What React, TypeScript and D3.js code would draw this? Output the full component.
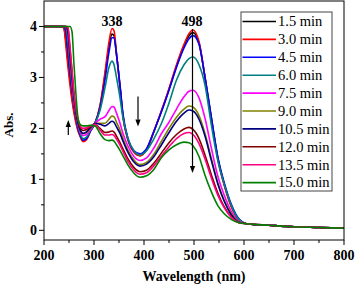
import React from 'react';
import * as d3 from 'd3';

const wavelengths = [200, 236, 240, 244, 248, 252, 256, 260, 264, 268, 272, 278, 285, 293, 302, 312, 322, 330, 336, 340, 345, 352, 358, 368, 380, 392, 405, 420, 435, 450, 465, 480, 490, 498, 510, 522, 535, 548, 560, 575, 590, 605, 650, 700, 750, 800];

const abs1_5 = [4.0, 4.0, 3.97, 3.7, 3.3, 2.95, 2.6, 2.35, 2.15, 1.98, 1.86, 1.75, 1.79, 1.95, 2.1, 2.43, 3.05, 3.6, 3.85, 3.82, 3.45, 2.82, 2.24, 1.78, 1.54, 1.47, 1.58, 1.94, 2.34, 2.77, 3.22, 3.62, 3.82, 3.88, 3.68, 3.0, 2.18, 1.4, 0.92, 0.47, 0.21, 0.13, 0.1, 0.07, 0.055, 0.04];
const abs3_0 = [4.0, 4.0, 3.95, 3.6, 3.2, 2.85, 2.55, 2.3, 2.1, 1.95, 1.85, 1.74, 1.78, 1.95, 2.1, 2.45, 3.1, 3.7, 3.96, 3.92, 3.47, 2.82, 2.23, 1.77, 1.53, 1.46, 1.58, 1.95, 2.35, 2.78, 3.25, 3.65, 3.86, 3.93, 3.7, 3.0, 2.17, 1.38, 0.9, 0.45, 0.2, 0.13, 0.1, 0.07, 0.055, 0.04];
const abs4_5 = [4.0, 4.0, 4.0, 3.9, 3.5, 3.1, 2.75, 2.45, 2.2, 2.0, 1.88, 1.77, 1.8, 1.95, 2.1, 2.4, 2.95, 3.5, 3.78, 3.78, 3.45, 2.85, 2.28, 1.8, 1.56, 1.5, 1.6, 1.95, 2.33, 2.75, 3.2, 3.58, 3.76, 3.82, 3.65, 3.0, 2.2, 1.42, 0.95, 0.5, 0.22, 0.13, 0.1, 0.07, 0.055, 0.04];
const abs6_0 = [4.0, 4.0, 4.0, 3.98, 3.7, 3.25, 2.85, 2.5, 2.25, 2.05, 1.92, 1.8, 1.83, 1.97, 2.1, 2.35, 2.8, 3.2, 3.32, 3.25, 3.0, 2.6, 2.2, 1.8, 1.56, 1.48, 1.56, 1.8, 2.1, 2.5, 2.95, 3.25, 3.37, 3.4, 3.25, 2.85, 2.05, 1.35, 0.92, 0.48, 0.21, 0.13, 0.1, 0.07, 0.055, 0.04];
const abs7_5 = [4.0, 4.0, 4.0, 4.0, 3.85, 3.4, 2.95, 2.55, 2.28, 2.08, 1.95, 1.86, 1.88, 1.98, 2.1, 2.18, 2.23, 2.35, 2.43, 2.42, 2.3, 2.1, 1.9, 1.65, 1.45, 1.37, 1.42, 1.62, 1.9, 2.12, 2.38, 2.62, 2.73, 2.75, 2.6, 2.2, 1.6, 1.05, 0.7, 0.36, 0.18, 0.13, 0.1, 0.07, 0.055, 0.04];
const abs9_0 = [4.0, 4.0, 4.0, 4.0, 3.9, 3.45, 3.0, 2.6, 2.3, 2.1, 1.98, 1.9, 1.92, 2.0, 2.1, 2.1, 2.1, 2.18, 2.24, 2.23, 2.12, 1.97, 1.8, 1.57, 1.38, 1.29, 1.33, 1.5, 1.75, 2.0, 2.22, 2.38, 2.44, 2.42, 2.25, 1.9, 1.4, 0.92, 0.6, 0.32, 0.17, 0.13, 0.1, 0.07, 0.055, 0.04];
const abs10_5 = [4.0, 4.0, 4.0, 4.0, 3.88, 3.42, 3.0, 2.6, 2.3, 2.1, 1.98, 1.9, 1.93, 2.02, 2.1, 2.08, 2.05, 2.1, 2.14, 2.12, 2.03, 1.9, 1.75, 1.53, 1.34, 1.26, 1.3, 1.45, 1.68, 1.92, 2.14, 2.3, 2.36, 2.34, 2.18, 1.85, 1.36, 0.9, 0.58, 0.3, 0.16, 0.13, 0.1, 0.07, 0.055, 0.04];
const abs12_0 = [4.0, 4.0, 4.0, 4.0, 3.95, 3.55, 3.1, 2.65, 2.35, 2.15, 2.03, 1.96, 1.98, 2.04, 2.08, 2.0, 1.92, 1.93, 1.95, 1.93, 1.85, 1.72, 1.6, 1.4, 1.23, 1.15, 1.18, 1.32, 1.52, 1.72, 1.88, 1.99, 2.02, 1.98, 1.8, 1.48, 1.08, 0.72, 0.47, 0.26, 0.15, 0.13, 0.1, 0.07, 0.055, 0.04];
const abs13_5 = [4.0, 4.0, 4.0, 4.0, 3.98, 3.6, 3.15, 2.7, 2.38, 2.18, 2.06, 2.0, 2.01, 2.05, 2.08, 1.97, 1.87, 1.87, 1.88, 1.86, 1.79, 1.67, 1.55, 1.35, 1.18, 1.1, 1.13, 1.27, 1.46, 1.64, 1.8, 1.9, 1.92, 1.88, 1.7, 1.4, 1.02, 0.68, 0.45, 0.25, 0.15, 0.13, 0.1, 0.07, 0.055, 0.04];
const abs15_0 = [4.0, 4.0, 4.0, 4.0, 4.0, 4.0, 3.9, 3.25, 2.65, 2.2, 2.08, 2.05, 2.05, 2.06, 2.05, 1.9, 1.78, 1.76, 1.77, 1.75, 1.68, 1.57, 1.46, 1.28, 1.12, 1.04, 1.07, 1.2, 1.43, 1.58, 1.68, 1.73, 1.72, 1.66, 1.45, 1.08, 0.75, 0.48, 0.33, 0.21, 0.15, 0.13, 0.1, 0.07, 0.055, 0.04];

const seriesNames = ['1.5 min', '3.0 min', '4.5 min', '6.0 min', '7.5 min', '9.0 min', '10.5 min', '12.0 min', '13.5 min', '15.0 min'];
const seriesColors = ['#000000', '#ff0000', '#0000ff', '#008080', '#ff00ff', '#808000', '#000080', '#800000', '#ff0080', '#008000'];
const seriesValues = [abs1_5, abs3_0, abs4_5, abs6_0, abs7_5, abs9_0, abs10_5, abs12_0, abs13_5, abs15_0];

const xTicks = [200, 300, 400, 500, 600, 700, 800];
const xMinorTicks = [250, 350, 450, 550, 650, 750];
const yTicks = [0, 1, 2, 3, 4];
const yMinorTicks = [0.5, 1.5, 2.5, 3.5];
const peakLabels = [{ wl: 338, text: '338' }, { wl: 498, text: '498' }];

const W = 355;
const H = 288;
const x = d3.scaleLinear().domain([200, 800]).range([44, 344]);
const y = d3.scaleLinear().domain([-0.19, 4.5]).range([240, 1]);

const serif = '"Liberation Serif", "Times New Roman", serif';

function Arrow({ x0, y0, x1, y1 }: { x0: number; y0: number; x1: number; y1: number }) {
  const dir = y1 > y0 ? 1 : -1;
  const headLen = 7;
  const hw = 2.6;
  const baseY = y1 - dir * headLen;
  return (
    <g>
      <line x1={x0} y1={y0} x2={x1} y2={baseY} stroke="#000" strokeWidth={1.2} />
      <path d={`M${x1},${y1} L${x1 - hw},${baseY} L${x1 + hw},${baseY} Z`} fill="#000" />
    </g>
  );
}

export default function App() {
  const line = d3
    .line<[number, number]>()
    .x((d) => x(d[0]))
    .y((d) => y(d[1]))
    .curve(d3.curveMonotoneX);

  const legendTop = 21.5;
  const legendStep = 17.9;

  return (
    <svg width={W} height={H} style={{ position: 'absolute', left: 0, top: 0, background: '#fff' }} fontFamily={serif}>
      <defs>
        <clipPath id="plotClip">
          <rect x={44} y={1} width={300} height={239} />
        </clipPath>
      </defs>
      <g clipPath="url(#plotClip)">
        {seriesValues.map((vals, i) => (
          <path
            key={seriesNames[i]}
            d={line(wavelengths.map((w, j) => [w, vals[j]] as [number, number])) || ''}
            fill="none"
            stroke={seriesColors[i]}
            strokeWidth={1.6}
          />
        ))}
      </g>
      {/* frame */}
      <rect x={44} y={1} width={300} height={239} fill="none" stroke="#000" strokeWidth={1} />
      {/* x ticks */}
      {xTicks.map((t) => (
        <g key={'xt' + t}>
          <line x1={x(t)} x2={x(t)} y1={240} y2={245} stroke="#000" />
          <text x={x(t)} y={260} textAnchor="middle" fontSize={14} fontWeight="bold">
            {t}
          </text>
        </g>
      ))}
      {xMinorTicks.map((t) => (
        <line key={'xm' + t} x1={x(t)} x2={x(t)} y1={240} y2={243} stroke="#000" />
      ))}
      {/* y ticks */}
      {yTicks.map((t) => (
        <g key={'yt' + t}>
          <line x1={39} x2={44} y1={y(t)} y2={y(t)} stroke="#000" />
          <text x={37} y={y(t) + 5} textAnchor="end" fontSize={14} fontWeight="bold">
            {t}
          </text>
        </g>
      ))}
      {yMinorTicks.map((t) => (
        <line key={'ym' + t} x1={41} x2={44} y1={y(t)} y2={y(t)} stroke="#000" />
      ))}
      {/* axis titles */}
      <text x={194} y={281} textAnchor="middle" fontSize={14} fontWeight="bold">
        Wavelength (nm)
      </text>
      <text transform="translate(13,125) rotate(-90)" textAnchor="middle" fontSize={13} fontWeight="bold">
        Abs.
      </text>
      {/* peak labels */}
      {peakLabels.map((p) => (
        <text key={p.text} x={x(p.wl) - 1} y={26} textAnchor="middle" fontSize={14} fontWeight="bold">
          {p.text}
        </text>
      ))}
      {/* arrows */}
      <Arrow x0={68.3} y0={135} x1={68.3} y1={120} />
      <Arrow x0={138} y0={96.5} x1={138} y1={126.5} />
      <Arrow x0={192.5} y0={29} x1={192.5} y1={173} />
      {/* legend */}
      <rect x={241} y={12} width={91} height={179} fill="#fff" stroke="#444" strokeWidth={1} />
      {seriesNames.map((n, i) => {
        const cy = legendTop + i * legendStep;
        return (
          <g key={'lg' + n}>
            <line x1={242.5} x2={276} y1={cy} y2={cy} stroke={seriesColors[i]} strokeWidth={1.6} />
            <text x={278} y={cy + 4.8} fontSize={14.5}>
              {n}
            </text>
          </g>
        );
      })}
    </svg>
  );
}
